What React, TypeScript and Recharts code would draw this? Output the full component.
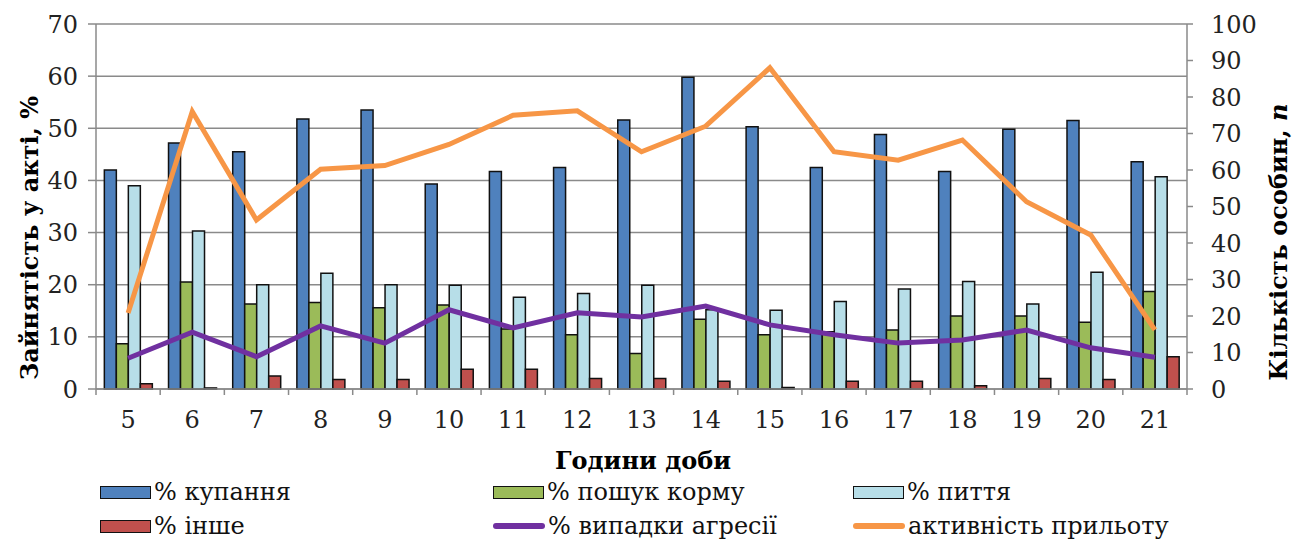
import { ComposedChart, Bar, Line, XAxis, YAxis, CartesianGrid } from "recharts";

const hours = ["5", "6", "7", "8", "9", "10", "11", "12", "13", "14", "15", "16", "17", "18", "19", "20", "21"];

// left axis, %
const bathing = [42, 47.2, 45.5, 51.8, 53.5, 39.3, 41.7, 42.5, 51.6, 59.8, 50.3, 42.5, 48.8, 41.7, 49.8, 51.5, 43.6];
const feeding = [8.7, 20.5, 16.3, 16.6, 15.6, 16.1, 11.5, 10.4, 6.8, 13.4, 10.4, 11, 11.3, 14, 14, 12.8, 18.7];
const drinking = [39, 30.3, 20, 22.2, 20, 19.9, 17.6, 18.3, 19.9, 15.2, 15.1, 16.8, 19.2, 20.6, 16.3, 22.4, 40.7];
const other = [1, 0.2, 2.5, 1.8, 1.8, 3.8, 3.8, 2, 2, 1.5, 0.3, 1.5, 1.5, 0.6, 2, 1.8, 6.2];
const aggression = [5.9, 10.9, 6.2, 12.1, 8.8, 15.2, 11.7, 14.6, 13.8, 15.9, 12.3, 10.4, 8.8, 9.4, 11.3, 7.9, 6.1];

// right axis, n
const arrival = [20.8, 76, 46.3, 60.2, 61.2, 67, 75, 76.2, 65, 72, 88, 65, 62.7, 68.2, 51.3, 42.2, 16.2];

const leftTicks = [0, 10, 20, 30, 40, 50, 60, 70];
const rightTicks = [0, 10, 20, 30, 40, 50, 60, 70, 80, 90, 100];

const data = hours.map((h, i) => ({
  hour: h,
  bathing: bathing[i],
  feeding: feeding[i],
  drinking: drinking[i],
  other: other[i],
  aggression: aggression[i],
  arrival: arrival[i],
}));

const FONT = "'DejaVu Serif', 'Liberation Serif', serif";
const AXIS = "#8a8a8a";
const W = 1301;
const H = 541;
const LEFT_W = 96;
const RIGHT_W = 114;
const X_H = 30;
const BAND = (W - LEFT_W - RIGHT_W) / hours.length;
const TICK_MARGIN = 22;

const legendItems = [
  { label: "% купання", color: "#4F81BD", kind: "bar" },
  { label: "% пошук корму", color: "#9BBB59", kind: "bar" },
  { label: "% пиття", color: "#B7DEE8", kind: "bar" },
  { label: "% інше", color: "#C0504D", kind: "bar" },
  { label: "% випадки агресії", color: "#7030A0", kind: "line" },
  { label: "активність прильоту", color: "#F79646", kind: "line" },
];
const legendCols = [100, 493, 853];

const HourTick = (props: any) => {
  const { x, y, payload, index } = props;
  const axisY = y - TICK_MARGIN;
  return (
    <g>
      <line x1={x - BAND / 2} x2={x - BAND / 2} y1={axisY} y2={axisY + 6} stroke={AXIS} strokeWidth={1.5} />
      {index === hours.length - 1 && (
        <line x1={x + BAND / 2} x2={x + BAND / 2} y1={axisY} y2={axisY + 6} stroke={AXIS} strokeWidth={1.5} />
      )}
      <text x={x} y={y} dy="0.71em" textAnchor="middle" fontFamily={FONT} fontSize={24} fill="#222">
        {payload.value}
      </text>
    </g>
  );
};

const LegendBox = () => (
  <div
    style={{
      position: "absolute",
      left: 0,
      top: 475,
      width: W,
      height: 70,
      fontFamily: FONT,
      fontSize: 24,
      color: "#111",
    }}
  >
    {legendItems.map((it, i) => {
      const col = i % 3;
      const row = Math.floor(i / 3);
      return (
        <div
          key={it.label}
          style={{
            position: "absolute",
            left: legendCols[col],
            top: row * 34,
            height: 34,
            display: "flex",
            alignItems: "center",
            whiteSpace: "nowrap",
          }}
        >
          {it.kind === "bar" ? (
            <span style={{ width: 49, height: 11, background: it.color, border: "1.5px solid #111", marginRight: 3 }} />
          ) : (
            <span style={{ width: 52, height: 6, background: it.color, borderRadius: 3, marginRight: 3 }} />
          )}
          {it.label}
        </div>
      );
    })}
  </div>
);

export default function App() {
  return (
    <div style={{ position: "absolute", left: 0, top: 0, width: W, height: H, background: "#fff" }}>
      <ComposedChart
        width={W}
        height={H}
        data={data}
        margin={{ top: 24, right: 0, bottom: 152 - X_H, left: 0 }}
        barCategoryGap="13%"
        barGap={0}
      >
        <CartesianGrid yAxisId="left" vertical={false} stroke={AXIS} strokeWidth={1.5} />
        <XAxis
          dataKey="hour"
          height={X_H}
          stroke={AXIS}
          strokeWidth={1.5}
          tickLine={false}
          tickSize={0}
          tickMargin={TICK_MARGIN}
          tick={<HourTick />}
          interval={0}
        />
        <YAxis
          yAxisId="left"
          width={LEFT_W}
          domain={[0, 70]}
          ticks={leftTicks}
          interval={0}
          stroke={AXIS}
          strokeWidth={1.5}
          tickSize={8}
          tickMargin={10}
          tick={{ fontFamily: FONT, fontSize: 24, fill: "#222" }}
        />
        <YAxis
          yAxisId="right"
          orientation="right"
          width={RIGHT_W}
          domain={[0, 100]}
          ticks={rightTicks}
          interval={0}
          stroke={AXIS}
          strokeWidth={1.5}
          tickSize={6}
          tickMargin={18}
          tick={{ fontFamily: FONT, fontSize: 24, fill: "#222", textAnchor: "start" }}
        />
        <Bar yAxisId="left" dataKey="bathing" fill="#4F81BD" stroke="#111" strokeWidth={1.5} isAnimationActive={false} />
        <Bar yAxisId="left" dataKey="feeding" fill="#9BBB59" stroke="#111" strokeWidth={1.5} isAnimationActive={false} />
        <Bar yAxisId="left" dataKey="drinking" fill="#B7DEE8" stroke="#111" strokeWidth={1.5} isAnimationActive={false} />
        <Bar yAxisId="left" dataKey="other" fill="#C0504D" stroke="#111" strokeWidth={1.5} isAnimationActive={false} />
        <Line yAxisId="left" dataKey="aggression" stroke="#7030A0" strokeWidth={5} dot={false} isAnimationActive={false} />
        <Line yAxisId="right" dataKey="arrival" stroke="#F79646" strokeWidth={5} dot={false} isAnimationActive={false} />
      </ComposedChart>
      <LegendBox />
      <div
        style={{
          position: "absolute",
          left: 643,
          top: 460,
          transform: "translate(-50%, -50%)",
          fontFamily: FONT,
          fontSize: 24,
          fontWeight: "bold",
          whiteSpace: "nowrap",
        }}
      >
        Години доби
      </div>
      <div
        style={{
          position: "absolute",
          left: 29,
          top: 238,
          transform: "translate(-50%, -50%) rotate(-90deg)",
          fontFamily: FONT,
          fontSize: 24,
          fontWeight: "bold",
          whiteSpace: "nowrap",
        }}
      >
        Зайнятість у акті, %
      </div>
      <div
        style={{
          position: "absolute",
          left: 1278,
          top: 242,
          transform: "translate(-50%, -50%) rotate(-90deg)",
          fontFamily: FONT,
          fontSize: 24,
          fontWeight: "bold",
          whiteSpace: "nowrap",
        }}
      >
        Кількість особин, <i>n</i>
      </div>
    </div>
  );
}
